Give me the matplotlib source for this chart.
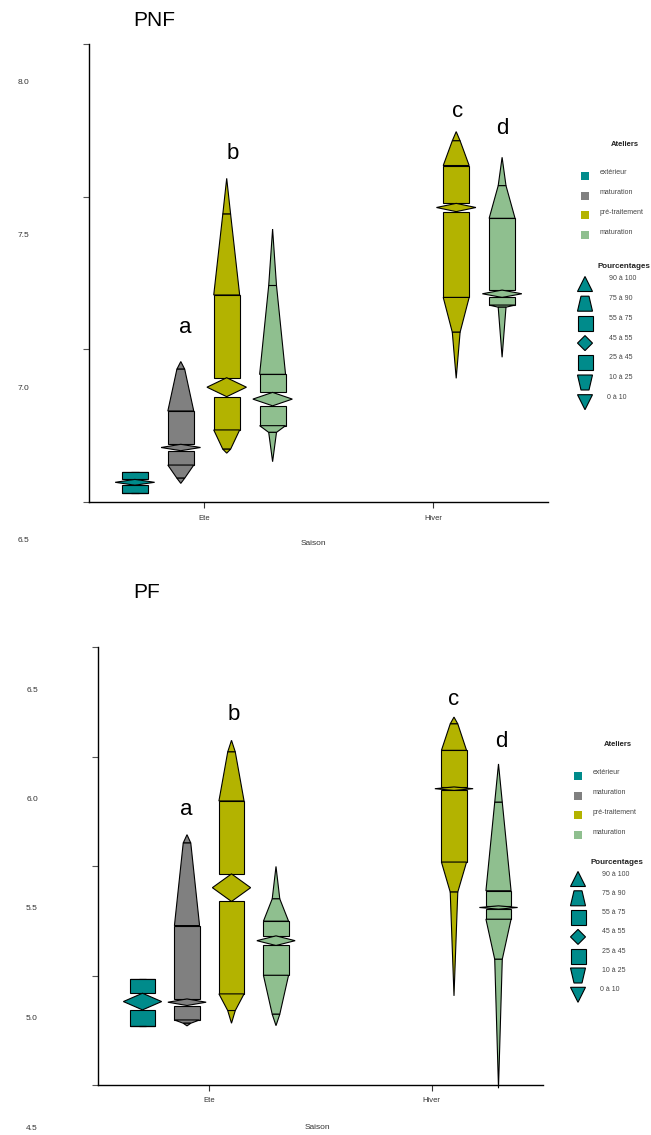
import matplotlib
matplotlib.use('Agg')
import matplotlib.pyplot as plt
from matplotlib.patches import Polygon
from matplotlib.transforms import blended_transform_factory, ScaledTranslation

plt.rcParams['font.family'] = ['Liberation Sans', 'DejaVu Sans']

# categories
seasons = ['Ete', 'Hiver']
ateliers = ['extérieur', 'maturation', 'pré-traitement', 'maturation']
atelier_colors = ['#008B8B', '#808080', '#B3B300', '#8FBF8F']
pct_labels = ['90 à 100', '75 à 90', '55 à 75', '45 à 55', '25 à 45', '10 à 25', '0 à 10']

# quantiles: min, q10, q25, q45, q55, q75, q90, max
pnf_ete_ext = [6.528, 6.528, 6.528, 6.555, 6.574, 6.599, 6.599, 6.599]
pnf_ete_mat = [6.561, 6.578, 6.621, 6.668, 6.689, 6.798, 6.935, 6.960]
pnf_ete_pre = [6.660, 6.673, 6.736, 6.845, 6.907, 7.178, 7.443, 7.560]
pnf_ete_mat2 = [6.632, 6.728, 6.750, 6.815, 6.859, 6.918, 7.209, 7.394]
pnf_hiv_pre = [6.905, 7.056, 7.170, 7.451, 7.478, 7.602, 7.683, 7.713]
pnf_hiv_mat2 = [6.974, 7.138, 7.145, 7.170, 7.194, 7.429, 7.536, 7.629]

pf_ete_ext = [4.770, 4.770, 4.770, 4.843, 4.919, 4.984, 4.984, 4.984]
pf_ete_mat = [4.770, 4.782, 4.797, 4.863, 4.893, 5.228, 5.605, 5.643]
pf_ete_pre = [4.782, 4.840, 4.916, 5.338, 5.464, 5.797, 6.021, 6.074]
pf_ete_mat2 = [4.771, 4.823, 5.001, 5.137, 5.181, 5.248, 5.350, 5.498]
pf_hiv_pre = [4.907, 5.381, 5.518, 5.845, 5.861, 6.028, 6.149, 6.180]
pf_hiv_mat2 = [4.485, 5.074, 5.257, 5.303, 5.318, 5.387, 5.791, 5.966]

# letters of significance
letters = ['a', 'b', 'c', 'd']
pnf_letter_x = [0.92, 1.128, 2.105, 2.303]
pnf_letter_y = [7.071, 7.64, 7.778, 7.724]
pf_letter_x = [0.897, 1.112, 2.099, 2.313]
pf_letter_y = [5.757, 6.194, 6.26, 6.069]

pnf_yticks = [6.5, 7.0, 7.5, 8.0]
pf_yticks = [4.5, 5.0, 5.5, 6.0, 6.5]

offsets = [-0.3, -0.1, 0.1, 0.3]
HB, HT, HD = 0.0565, 0.017, 0.086

W, H = 651, 1135
fig = plt.figure(figsize=(W / 100, H / 100), dpi=100)


def px_axes(l, t, r, b):
    return fig.add_axes([l / W, 1 - b / H, (r - l) / W, (b - t) / H])


def draw_series(ax, c, q, color):
    q0, q10, q25, q45, q55, q75, q90, q100 = q
    mid = (q45 + q55) / 2
    shapes = [
        [(c - HT, q90), (c + HT, q90), (c, q100)],
        [(c - HB, q75), (c + HB, q75), (c + HT, q90), (c - HT, q90)],
        [(c - HB, q55), (c + HB, q55), (c + HB, q75), (c - HB, q75)],
        [(c, q45), (c + HD, mid), (c, q55), (c - HD, mid)],
        [(c - HB, q25), (c + HB, q25), (c + HB, q45), (c - HB, q45)],
        [(c - HT, q10), (c + HT, q10), (c + HB, q25), (c - HB, q25)],
        [(c, q0), (c + HT, q10), (c - HT, q10)],
    ]
    for s in shapes:
        ax.add_patch(Polygon(s, closed=True, facecolor=color, edgecolor='black',
                             linewidth=0.8, clip_on=False, zorder=3))


def setup_axes(ax, yticks, ylim, lab_dy, title, title_xy, xlab_xy):
    ax.set_xlim(0.5, 2.5)
    ax.set_ylim(*ylim)
    for sp in ['top', 'right']:
        ax.spines[sp].set_visible(False)
    for sp in ['left', 'bottom']:
        ax.spines[sp].set_linewidth(1.0)
    ax.set_xticks([1, 2])
    ax.set_xticklabels(seasons, fontsize=5.5, color='#333333')
    ax.tick_params(axis='x', length=4, width=0.8, color='#333333', pad=5)
    ax.set_yticks(yticks)
    ax.set_yticklabels([])
    ax.tick_params(axis='y', length=4, width=0.8, color='#555555')
    trans = blended_transform_factory(ax.transAxes, ax.transData) + \
        ScaledTranslation(-0.60, -lab_dy / 100, fig.dpi_scale_trans)
    for v in yticks:
        ax.text(0, v, f'{v:.1f}', transform=trans, ha='right', va='center',
                fontsize=6, color='#333333')
    ax.set_xlabel('Saison', fontsize=6, color='#333333')
    ax.xaxis.set_label_coords(*xlab_xy)
    ax.xaxis.label.set_va('center')
    fig.text(title_xy[0] / W, 1 - title_xy[1] / H, title, fontsize=15,
             ha='center', va='center')


ax1 = px_axes(89, 44, 548, 502)
ax2 = px_axes(98, 647, 543, 1085)

setup_axes(ax1, pnf_yticks, (6.5, 8.0), 39, 'PNF', (154, 20), (0.488, -0.090))
setup_axes(ax2, pf_yticks, (4.5, 6.5), 43, 'PF', (147, 593), (0.494, -0.098))

pnf_series = [(0, 0, pnf_ete_ext), (0, 1, pnf_ete_mat), (0, 2, pnf_ete_pre),
              (0, 3, pnf_ete_mat2), (1, 2, pnf_hiv_pre), (1, 3, pnf_hiv_mat2)]
pf_series = [(0, 0, pf_ete_ext), (0, 1, pf_ete_mat), (0, 2, pf_ete_pre),
             (0, 3, pf_ete_mat2), (1, 2, pf_hiv_pre), (1, 3, pf_hiv_mat2)]

for ax, series in [(ax1, pnf_series), (ax2, pf_series)]:
    for si, gi, q in series:
        draw_series(ax, si + 1 + offsets[gi], q, atelier_colors[gi])

for ax, lx, ly in [(ax1, pnf_letter_x, pnf_letter_y), (ax2, pf_letter_x, pf_letter_y)]:
    for t, x, y in zip(letters, lx, ly):
        ax.text(x, y, t, fontsize=16, ha='center', va='center')

# legends, drawn on an overlay in pixel coordinates
lg = fig.add_axes([0, 0, 1, 1], zorder=-1)
lg.set_xlim(0, W)
lg.set_ylim(H, 0)
lg.axis('off')


def marker_shape(k, x, y, s=7.5):
    n = 4
    if k == 0:
        return [(x - s, y + s), (x + s, y + s), (x, y - s)]
    if k == 1:
        return [(x - s, y + s), (x + s, y + s), (x + n, y - s), (x - n, y - s)]
    if k in (2, 4):
        return [(x - s, y - s), (x + s, y - s), (x + s, y + s), (x - s, y + s)]
    if k == 3:
        return [(x, y - s), (x + s, y), (x, y + s), (x - s, y)]
    if k == 5:
        return [(x - s, y - s), (x + s, y - s), (x + n, y + s), (x - n, y + s)]
    return [(x - s, y - s), (x + s, y - s), (x, y + s)]


def draw_legend(x0, y0, mk_y0, mk_step):
    lg.text(x0 + 40, y0, 'Ateliers', fontsize=5.5, fontweight='bold',
            ha='center', va='center', color='#222222')
    for i, (name, col) in enumerate(zip(ateliers, atelier_colors)):
        yy = y0 + 32 + i * 19.7
        lg.add_patch(Polygon([(x0 - 4, yy - 4), (x0 + 4, yy - 4), (x0 + 4, yy + 4), (x0 - 4, yy + 4)],
                             facecolor=col, edgecolor='none'))
        lg.text(x0 + 15, yy - 3, name, fontsize=5, ha='left', va='center', color='#444444')
    lg.text(x0 + 12.5, mk_y0 - 17, 'Pourcentages', fontsize=5.8, fontweight='bold',
            ha='left', va='center', color='#222222')
    for k, lab in enumerate(pct_labels):
        yy = mk_y0 + k * mk_step
        lg.add_patch(Polygon(marker_shape(k, x0, yy), facecolor=atelier_colors[0],
                             edgecolor='black', linewidth=0.8))
        lg.text(x0 + 24 if k < 6 else x0 + 22, yy - 5, lab, fontsize=5,
                ha='left', va='center', color='#444444')


draw_legend(585, 144, 284, 19.7)
draw_legend(578, 744, 879, 19.3)

fig.savefig('out.png', dpi=100)
